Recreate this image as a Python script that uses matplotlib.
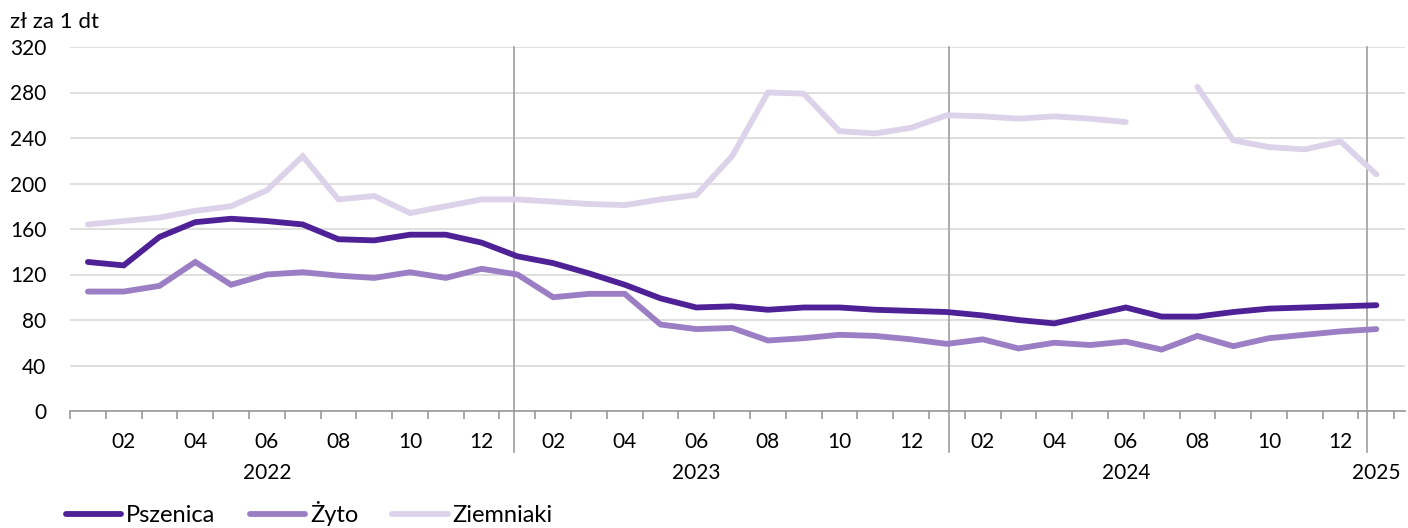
import numpy as np
import matplotlib
matplotlib.use("Agg")
import matplotlib.pyplot as plt
import matplotlib.transforms as mtransforms

plt.rcParams["font.family"] = ["Lato", "DejaVu Sans"]

# miesiące 2022-01 .. 2025-01
years = [2022, 2023, 2024, 2025]
months = [m for y in years for m in range(1, 13)][:37]

pszenica = [131, 128, 153, 166, 169, 167, 164, 151, 150, 155, 155, 148,
            136, 130, 121, 111, 99, 91, 92, 89, 91, 91, 89, 88,
            87, 84, 80, 77, 84, 91, 83, 83, 87, 90, 91, 92,
            93]
zyto = [105, 105, 110, 131, 111, 120, 122, 119, 117, 122, 117, 125,
        120, 100, 103, 103, 76, 72, 73, 62, 64, 67, 66, 63,
        59, 63, 55, 60, 58, 61, 54, 66, 57, 64, 67, 70,
        72]
ziemniaki = [164, 167, 170, 176, 180, 194, 224, 186, 189, 174, 180, 186,
             186, 184, 182, 181, 186, 190, 224, 280, 279, 246, 244, 249,
             260, 259, 257, 259, 257, 254, np.nan, 285, 238, 232, 230, 237,
             208]

y_ticks = [0, 40, 80, 120, 160, 200, 240, 280, 320]

c_psz = "#4e2196"
c_zyt = "#9b7ec4"
c_zie = "#dcd3ea"
grid_c = "#d9d9d9"
sep_c = "#a6a6a6"
fs = 15
lw = 4.2

x = np.arange(len(months))

fig = plt.figure(figsize=(14.08, 5.28), dpi=100)
ax = fig.add_axes([70 / 1408, 1 - 411 / 528, 1335 / 1408, 364 / 528])

ax.plot(x, ziemniaki, color=c_zie, lw=lw, solid_capstyle="round", solid_joinstyle="miter", label="Ziemniaki", zorder=3)
ax.plot(x, zyto, color=c_zyt, lw=lw, solid_capstyle="round", solid_joinstyle="miter", label="Żyto", zorder=4)
ax.plot(x, pszenica, color=c_psz, lw=lw, solid_capstyle="round", solid_joinstyle="miter", label="Pszenica", zorder=5)

ax.set_xlim(-0.5, 36.8)
ax.set_ylim(0, 320)
ax.set_yticks(y_ticks)
ax.set_yticklabels([str(v) for v in y_ticks], fontsize=fs)
ax.tick_params(axis="y", length=0, pad=17)
ax.grid(axis="y", color=grid_c, lw=1.2)
ax.set_axisbelow(True)

for s in ["top", "right", "left"]:
    ax.spines[s].set_visible(False)
ax.spines["bottom"].set_color("#999999")
ax.spines["bottom"].set_linewidth(1.2)

# miesiące parzyste
lab_idx = [i for i, m in enumerate(months) if m % 2 == 0]
ax.set_xticks(lab_idx)
ax.set_xticklabels(["%02d" % months[i] for i in lab_idx], fontsize=fs)
ax.tick_params(axis="x", which="major", length=0, pad=15)
ax.set_xticks(np.arange(-0.5, 37, 1.0), minor=True)
ax.tick_params(axis="x", which="minor", length=5.5, width=1.2, color="#999999", direction="out")

trans = mtransforms.blended_transform_factory(ax.transData, ax.transAxes)
for xs in [11.9, 24.05, 35.75]:
    ax.plot([xs, xs], [-0.113, 1.0], transform=trans, color=sep_c, lw=1.3, clip_on=False, zorder=2)

year_pos = [5, 17, 29, 36]
for xp, yr in zip(year_pos, years):
    ax.text(xp, -0.17, str(yr), transform=trans, ha="center", va="center", fontsize=fs)

fig.text(10 / 1408, 1 - 22 / 528, "zł za 1 dt", ha="left", va="center", fontsize=16)

h, l = ax.get_legend_handles_labels()
order = [2, 1, 0]
fig.legend([h[i] for i in order], [l[i] for i in order], loc="center left",
           bbox_to_anchor=(66 / 1408, 1 - 514 / 528), ncol=3, frameon=False,
           fontsize=17, handlelength=2.35, handletextpad=0.2, columnspacing=1.45,
           borderpad=0, borderaxespad=0)

fig.savefig("out.png", dpi=100)
